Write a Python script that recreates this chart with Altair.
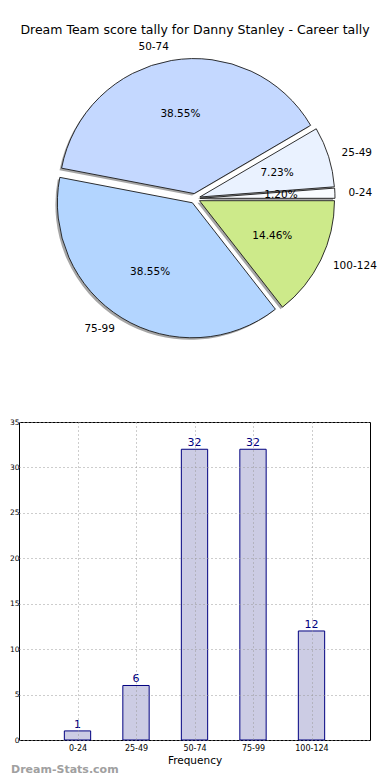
import json
import altair as alt
import pandas as pd

# ---- data ----
labels = ["0-24", "25-49", "50-74", "75-99", "100-124"]
counts = [1, 6, 32, 32, 12]
pie_colors = ["#fafcff", "#eaf2ff", "#c4d8ff", "#b3d5ff", "#cdea8a"]
title_text = "Dream Team score tally for Danny Stanley - Career tally"
x_title = "Frequency"
watermark = "Dream-Stats.com"
y_ticks = [0, 5, 10, 15, 20, 25, 30, 35]

df = pd.DataFrame({
    "label": labels,
    "count": counts,
    "color": pie_colors,
    "idx": list(range(len(labels))),
})
df["rev"] = len(labels) - 1 - df["idx"]

FONT = "DejaVu Sans"
CX, CY, R, D = 176, 190.5, 135, 5

base = (
    alt.Chart(df)
    .transform_joinaggregate(total="sum(count)")
    .transform_window(cum="sum(count)", sort=[alt.SortField("rev")])
    .transform_calculate(t0="PI/2 + 2*PI*(datum.cum - datum.count)/datum.total")
    .transform_calculate(t1="PI/2 + 2*PI*datum.cum/datum.total")
    .transform_calculate(mid="PI/2 + PI*(2*datum.cum - datum.count)/datum.total")
    .transform_calculate(ex=f"{CX} + {D}*sin(datum.mid)")
    .transform_calculate(ey=f"{CY} - {D}*cos(datum.mid)")
    .transform_calculate(sx="datum.ex - 2", sy="datum.ey + 2")
    .transform_calculate(lx=f"datum.ex + {1.1*R}*sin(datum.mid)")
    .transform_calculate(ly=f"datum.ey - {1.1*R}*cos(datum.mid)")
    .transform_calculate(px=f"datum.ex + {0.6*R}*sin(datum.mid)")
    .transform_calculate(py=f"datum.ey - {0.6*R}*cos(datum.mid)")
    .transform_calculate(pct="format(100*datum.count/datum.total, '.2f') + '%'")
)

shadow = base.mark_arc(radius=R, fill="#6a6a6a", opacity=0.6).encode(
    x=alt.X("sx:Q", scale=None, axis=None),
    y=alt.Y("sy:Q", scale=None, axis=None),
    theta=alt.Theta("t0:Q", scale=None),
    theta2="t1:Q",
)
slices = base.mark_arc(radius=R, stroke="#1a1a1a", strokeWidth=0.9).encode(
    x=alt.X("ex:Q", scale=None, axis=None),
    y=alt.Y("ey:Q", scale=None, axis=None),
    theta=alt.Theta("t0:Q", scale=None),
    theta2="t1:Q",
    fill=alt.Fill("color:N", scale=None),
)
lbl_r = base.transform_filter("sin(datum.mid) > 0").mark_text(
    align="left", baseline="middle", fontSize=10.5, font=FONT, color="black"
).encode(x=alt.X("lx:Q", scale=None), y=alt.Y("ly:Q", scale=None), text="label:N")
lbl_l = base.transform_filter("sin(datum.mid) <= 0").mark_text(
    align="right", baseline="middle", fontSize=10.5, font=FONT, color="black"
).encode(x=alt.X("lx:Q", scale=None), y=alt.Y("ly:Q", scale=None), text="label:N")
pct = base.mark_text(
    align="center", baseline="middle", fontSize=10.5, font=FONT, color="black"
).encode(x=alt.X("px:Q", scale=None), y=alt.Y("py:Q", scale=None), text="pct:N")

title = alt.Chart(pd.DataFrame({"t": [title_text]})).mark_text(
    align="center", baseline="middle", fontSize=12.5, font=FONT, color="black"
).encode(text="t:N", x=alt.value(176), y=alt.value(22))

pie = alt.layer(title, shadow, slices, lbl_r, lbl_l, pct).properties(
    width=351, height=390, view=alt.ViewBackground(stroke=None)
)

# ---- bar chart ----
label_expr = json.dumps(labels) + "[datum.value]"
xs = alt.Scale(domain=[-1, 5], nice=False, zero=False)
ys = alt.Scale(domain=[0, 35], nice=False)

bars = (
    alt.Chart(df)
    .transform_calculate(x0="datum.idx - 0.225", x1="datum.idx + 0.225")
    .mark_bar(fill="#ccccE4", stroke="#000080", strokeWidth=1)
    .encode(
        x=alt.X(
            "x0:Q", scale=xs,
            axis=alt.Axis(
                values=list(range(len(labels))), labelExpr=label_expr,
                title=x_title, grid=True, gridDash=[1, 3], gridColor="#9a9a9a",
                ticks=False, domain=False, labelFontSize=8, labelFont=FONT,
                labelColor="black", labelPadding=4, titleFontSize=10.5,
                titleFont=FONT, titleFontWeight="normal", titleColor="black",
                titlePadding=3, zindex=1,
            ),
        ),
        x2="x1:Q",
        y=alt.Y(
            "count:Q", scale=ys,
            axis=alt.Axis(
                values=y_ticks, title=None, grid=True, gridDash=[1, 3],
                gridColor="#9a9a9a", ticks=False, domain=False,
                labelFontSize=7.5, labelFont=FONT, labelColor="black",
                labelPadding=0, zindex=1,
            ),
        ),
        y2=alt.datum(0),
    )
)
vals = alt.Chart(df).mark_text(
    color="#000080", fontSize=11, font=FONT, baseline="bottom", dy=-1
).encode(
    x=alt.X("idx:Q", scale=xs),
    y=alt.Y("count:Q", scale=ys),
    text="count:Q",
)
wm = alt.Chart(pd.DataFrame({"w": [watermark]})).mark_text(
    align="left", baseline="middle", fontSize=11, font=FONT,
    fontWeight="bold", color="#a0a0a0"
).encode(text="w:N", x=alt.value(-8), y=alt.value(348))

bar = alt.layer(bars, vals, wm).properties(
    width=351, height=318, view=alt.ViewBackground(stroke="black", strokeWidth=1)
)

chart = alt.vconcat(pie, bar, spacing=19).properties(padding=0).configure(font=FONT)

chart.save("out.html", embed_options={"renderer": "svg", "actions": False})
